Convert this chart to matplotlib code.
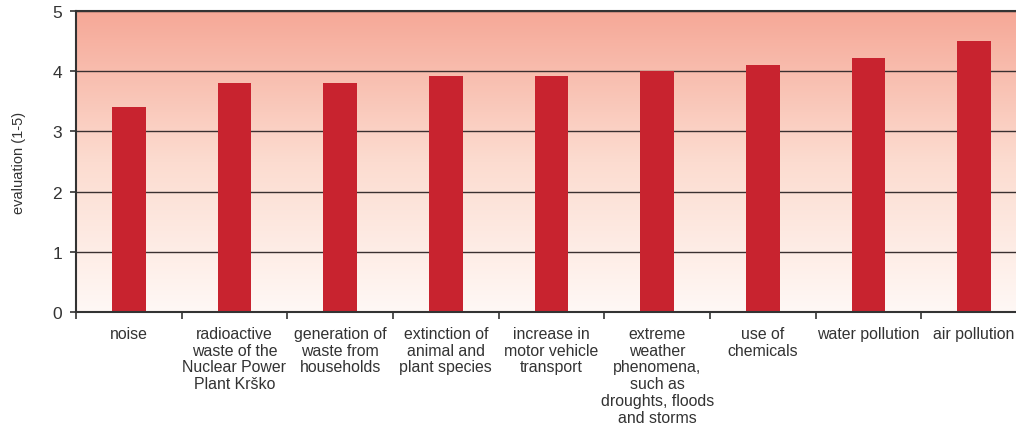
import numpy as np
import matplotlib
matplotlib.use("Agg")
import matplotlib.pyplot as plt
from matplotlib.colors import LinearSegmentedColormap

categories = [
    "noise",
    "radioactive\nwaste of the\nNuclear Power\nPlant Krško",
    "generation of\nwaste from\nhouseholds",
    "extinction of\nanimal and\nplant species",
    "increase in\nmotor vehicle\ntransport",
    "extreme\nweather\nphenomena,\nsuch as\ndroughts, floods\nand storms",
    "use of\nchemicals",
    "water pollution",
    "air pollution",
]
scores = [3.4, 3.8, 3.8, 3.92, 3.92, 4.0, 4.1, 4.22, 4.5]
y_ticks = [0, 1, 2, 3, 4, 5]

plt.rcParams["font.family"] = ["Liberation Sans", "DejaVu Sans"]

fig = plt.figure(figsize=(10.16, 4.27), dpi=100)
ax = fig.add_axes([76 / 1016, 1 - 313 / 427, (1027 - 76) / 1016, (313 - 12) / 427])

n = len(categories)
ax.set_xlim(0, n)
ax.set_ylim(0, 5)

# vertical gradient background: pale pink at the bottom, salmon at the top
cmap = LinearSegmentedColormap.from_list("bg", ["#FFF8F5", "#FCDCD0", "#F6A897"])
grad = np.linspace(0, 1, 256).reshape(-1, 1)
ax.imshow(grad, cmap=cmap, aspect="auto", extent=(0, n, 0, 5), origin="lower", zorder=0)

for yv in y_ticks[1:]:
    ax.axhline(yv, color="#3a3030", lw=1.0, zorder=1)

x = np.arange(n) + 0.5
ax.bar(x, scores, width=0.32, color="#C8232F", zorder=2)

ax.set_yticks(y_ticks)
ax.set_yticklabels([str(v) for v in y_ticks], fontsize=12.5, color="#333333")
ax.set_xticks(np.arange(n + 1), minor=False)
ax.set_xticklabels([])
ax.set_xticks(x, minor=True)
ax.set_xticklabels(categories, minor=True, fontsize=11.4, color="#333333",
                   linespacing=1.15, va="top")
ax.tick_params(axis="x", which="minor", length=0, pad=10)
ax.tick_params(axis="x", which="major", length=5, width=1.2, color="#333333", direction="out")
ax.tick_params(axis="y", length=4, width=1.2, color="#333333", direction="out", pad=6)

for side in ["left", "bottom", "top"]:
    ax.spines[side].set_color("#333333")
    ax.spines[side].set_linewidth(1.5)
ax.spines["right"].set_visible(False)

ax.set_ylabel("evaluation (1-5)", fontsize=10.5, color="#333333", labelpad=19)

fig.savefig("out.png", dpi=100)
